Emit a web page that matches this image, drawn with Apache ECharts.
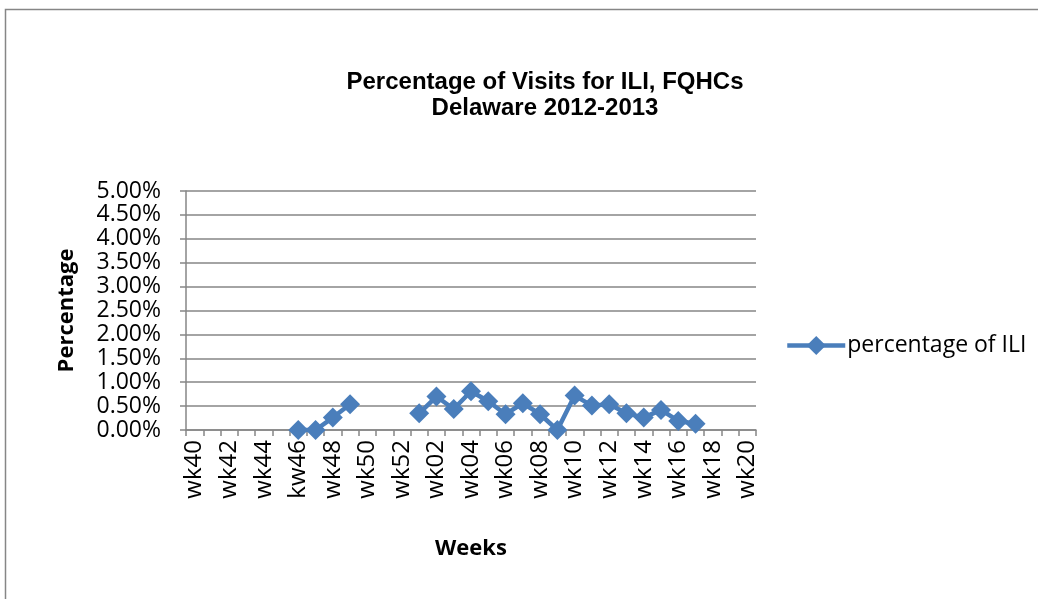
<!DOCTYPE html>
<html>
<head>
<meta charset="utf-8">
<script src="https://cdn.jsdelivr.net/npm/echarts@6/dist/echarts.min.js"></script>
<style>
  html, body { margin: 0; padding: 0; background: #fff; }
  #chart { width: 1038px; height: 599px; }
</style>
</head>
<body>
<div id="chart"></div>
<script>
// weeks of the 2012-2013 season (wk46 is labelled "kw46" in the source)
var weeks = ['wk40', 'wk41', 'wk42', 'wk43', 'wk44', 'wk45', 'kw46', 'wk47', 'wk48', 'wk49',
  'wk50', 'wk51', 'wk52', 'wk01', 'wk02', 'wk03', 'wk04', 'wk05', 'wk06', 'wk07', 'wk08',
  'wk09', 'wk10', 'wk11', 'wk12', 'wk13', 'wk14', 'wk15', 'wk16', 'wk17', 'wk18', 'wk19', 'wk20'];
// percentage of ILI visits (in %), null = no report
var iliPct = [null, null, null, null, null, null, 0, 0, 0.26, 0.54,
  null, null, null, 0.35, 0.70, 0.44, 0.81, 0.60, 0.33, 0.56, 0.33,
  0, 0.72, 0.51, 0.54, 0.35, 0.26, 0.42, 0.19, 0.13, null, null, null];
var yMax = 5;
var yStep = 0.5;

var gray = '#868686';
var blue = '#4a7ebb';

var chart = echarts.init(document.getElementById('chart'));
var option = {
  backgroundColor: '#fff',
  animation: false,
  title: {
    text: 'Percentage of Visits for ILI, FQHCs\nDelaware 2012-2013',
    left: 540,
    textAlign: 'center',
    top: 64,
    textStyle: {
      fontFamily: 'Liberation Sans',
      fontSize: 24,
      fontWeight: 'bold',
      color: '#000',
      lineHeight: 26
    }
  },
  legend: {
    left: 780,
    top: 329,
    itemWidth: 58,
    itemHeight: 24,
    itemGap: 4,
    data: ['percentage of ILI'],
    lineStyle: { width: 4.5 },
    textStyle: { fontFamily: 'Open Sans', fontSize: 23, color: '#000', padding: [0, 0, 0, -3] }
  },
  grid: {
    left: 186,
    right: 282,
    top: 191,
    bottom: 169,
    containLabel: false
  },
  xAxis: {
    type: 'category',
    data: weeks,
    boundaryGap: true,
    name: 'Weeks',
    nameLocation: 'middle',
    nameGap: 108,
    nameTextStyle: { fontFamily: 'Open Sans', fontSize: 22, fontWeight: 'bold', color: '#000' },
    axisLine: { lineStyle: { color: gray, width: 1.5 } },
    axisTick: { show: true, interval: 0, length: 6, lineStyle: { color: gray, width: 1.5 } },
    axisLabel: {
      interval: 1,
      rotate: 90,
      margin: 10,
      fontFamily: 'Open Sans',
      fontSize: 24,
      color: '#000'
    },
    splitLine: { show: false }
  },
  yAxis: {
    type: 'value',
    min: 0,
    max: yMax,
    interval: yStep,
    name: 'Percentage',
    nameLocation: 'middle',
    nameGap: 108,
    nameTextStyle: { fontFamily: 'Open Sans', fontSize: 22, fontWeight: 'bold', color: '#000' },
    axisLine: { show: true, lineStyle: { color: gray, width: 1.5 } },
    axisTick: { show: true, length: 6, inside: false, lineStyle: { color: gray, width: 1.5 } },
    axisLabel: {
      margin: 25,
      fontFamily: 'Open Sans',
      fontSize: 23,
      color: '#000',
      lineHeight: 22,
      formatter: function (v) { return v.toFixed(2) + '%'; }
    },
    splitLine: { show: true, lineStyle: { color: gray, width: 1.5 } }
  },
  series: [
    {
      name: 'percentage of ILI',
      type: 'line',
      data: iliPct,
      connectNulls: false,
      showAllSymbol: true,
      symbol: 'diamond',
      symbolSize: 20,
      lineStyle: { color: blue, width: 4.5 },
      itemStyle: { color: blue },
      z: 5
    }
  ],
  graphic: [
    {
      type: 'rect',
      shape: { x: 5.5, y: 9.5, width: 1100, height: 700 },
      style: { fill: null, stroke: gray, lineWidth: 1.5 },
      silent: true
    }
  ]
};
chart.setOption(option);
window.addEventListener('resize', function () {
  chart.resize();
});
</script>
</body>
</html>
